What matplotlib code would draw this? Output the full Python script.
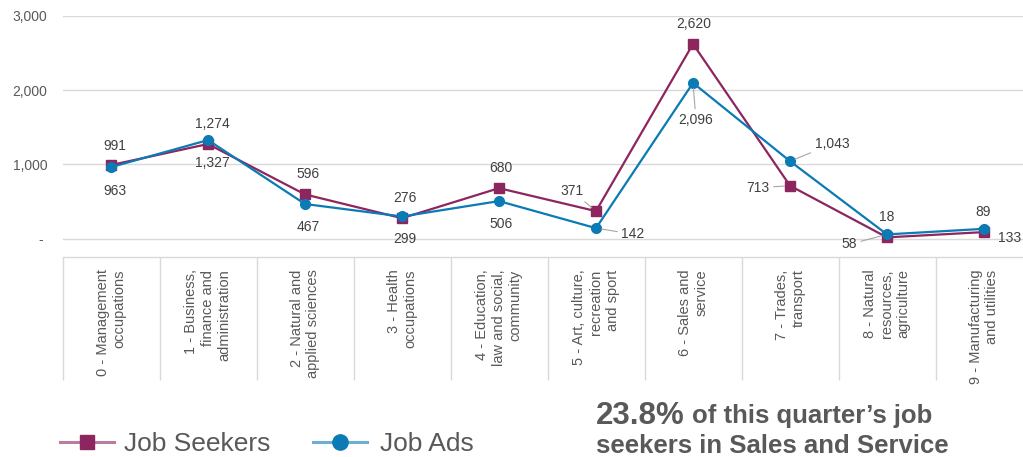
import matplotlib
matplotlib.use("Agg")
import matplotlib.pyplot as plt
from matplotlib.lines import Line2D

categories = [
    "0 - Management\noccupations",
    "1 - Business,\nfinance and\nadministration",
    "2 - Natural and\napplied sciences",
    "3 - Health\noccupations",
    "4 - Education,\nlaw and social,\ncommunity",
    "5 - Art, culture,\nrecreation\nand sport",
    "6 - Sales and\nservice",
    "7 - Trades,\ntransport",
    "8 - Natural\nresources,\nagriculture",
    "9 - Manufacturing\nand utilities",
]
job_seekers = [991, 1274, 596, 276, 680, 371, 2620, 713, 18, 89]
job_ads = [963, 1327, 467, 299, 506, 142, 2096, 1043, 58, 133]
y_ticks = [0, 1000, 2000, 3000]
y_tick_labels = ["- ", "1,000", "2,000", "3,000"]

C_SEEK = "#8d255f"
C_ADS = "#0b7ab5"
GRID = "#d9d9d9"
TXT = "#595959"
LBL = "#404040"
FONT = "Liberation Sans"

plt.rcParams["font.family"] = [FONT, "DejaVu Sans"]

W, H = 1023, 457
fig = plt.figure(figsize=(W / 100, H / 100), dpi=100)
ax = fig.add_axes([62.5 / W, (H - 257) / H, 970 / W, 241.3 / H])

x = list(range(len(categories)))
ax.plot(x, job_seekers, color=C_SEEK, lw=1.6, marker="s", ms=6.5,
        zorder=3, clip_on=False)
ax.plot(x, job_ads, color=C_ADS, lw=1.6, marker="o", ms=7,
        zorder=4, clip_on=False)

ax.set_xlim(-0.5, len(categories) - 0.5)
ax.set_ylim(-246, 3000)
ax.set_yticks(y_ticks)
ax.set_yticklabels(y_tick_labels, fontsize=10, color=TXT)
ax.yaxis.grid(True, color=GRID, lw=1)
ax.set_axisbelow(True)
ax.tick_params(axis="y", length=0, pad=11)

for s in ["left", "right", "top"]:
    ax.spines[s].set_visible(False)
ax.spines["bottom"].set_color(GRID)
ax.spines["bottom"].set_linewidth(1)

ax.set_xticks(x)
ax.set_xticklabels(categories, rotation=90, va="top", ha="center",
                   multialignment="right", fontsize=10.5, color=TXT,
                   linespacing=1.25)
ax.set_xticks([i - 0.5 for i in range(len(categories) + 1)], minor=True)
ax.tick_params(axis="x", which="major", length=0, pad=9)
ax.tick_params(axis="x", which="minor", length=88.5, color=GRID, width=1)

# data labels: (dx, dy) pixel offsets from the point, leader flag
seek_off = [(4, 19, 0), (4, 20, 0), (3, 20, 0), (3, 20, 0), (2, 20, 0),
            (-24, 20, 1), (1, 20, 0), (-32, -2, 1), (0, 20, 0), (-1, 20, 0)]
ads_off = [(4, -24, 0), (4, -23, 0), (3, -23, 0), (3, -23, 0), (2, -23, 0),
           (37, -6, 1), (3, -37, 1), (42, 17, 1), (-38, -10, 1), (26, -9, 0)]

for vals, offs in ((job_seekers, seek_off), (job_ads, ads_off)):
    for i, (v, (dx, dy, lead)) in enumerate(zip(vals, offs)):
        kw = {}
        if lead:
            kw["arrowprops"] = dict(arrowstyle="-", color="#a6a6a6", lw=0.8,
                                    shrinkA=1, shrinkB=4)
        ax.annotate(f"{v:,}", (i, v), xytext=(dx, dy),
                    textcoords="offset pixels", ha="center", va="center",
                    fontsize=10, color=LBL, zorder=6, **kw)

# legend
def fy(p):
    return (H - p) / H

for x0, x1, col, mk, ms, label, tx in (
        (60, 114, C_SEEK, "s", 10, "Job Seekers", 124),
        (313, 367, C_ADS, "o", 11, "Job Ads", 380)):
    fig.add_artist(Line2D([x0 / W, x1 / W], [fy(442), fy(442)], color=col,
                          alpha=0.6, lw=2.2, transform=fig.transFigure))
    fig.add_artist(Line2D([(x0 + x1) / 2 / W], [fy(442)], color=col,
                          marker=mk, ms=ms, lw=0, transform=fig.transFigure))
    fig.text(tx / W, fy(451), label, fontsize=19, color=TXT, va="baseline",
             ha="left")

fig.text(596 / W, fy(423.5), "23.8%", fontsize=22.5, fontweight="bold",
         color=TXT, va="baseline", ha="left")
fig.text(692 / W, fy(423.5), "of this quarter\u2019s job", fontsize=18.5,
         fontweight="bold", color=TXT, va="baseline", ha="left")
fig.text(596 / W, fy(453), "seekers in Sales and Service", fontsize=18.5,
         fontweight="bold", color=TXT, va="baseline", ha="left")

fig.savefig("out.png", dpi=100)
